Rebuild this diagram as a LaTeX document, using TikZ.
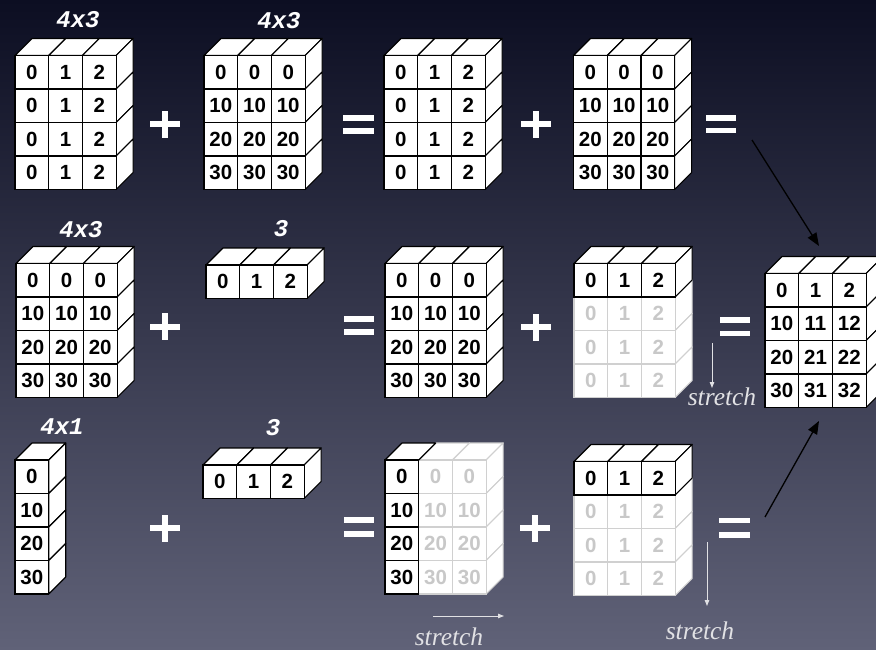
\documentclass[tikz,border=0pt]{standalone}
\usepackage{fontspec}
\usetikzlibrary{arrows.meta}
\newfontfamily\cellfamily{Liberation Sans}
\newfontfamily\labfamily{Liberation Mono}
\newfontfamily\strfamily{Liberation Serif}
\definecolor{bgtop}{RGB}{12,14,34}
\definecolor{bgmid}{RGB}{50,52,78}
\definecolor{bgbot}{RGB}{96,98,120}
\definecolor{gridgray}{RGB}{208,208,208}
\definecolor{textgray}{RGB}{200,200,200}
\definecolor{stretchgray}{RGB}{225,225,228}
\def\W{33.7}
\def\H{33.5}
\def\D{17}
\tikzset{
  cellbox/.style={rectangle, minimum width=33.7pt, minimum height=33.5pt, inner sep=0pt, fill=white, line width=1.2pt, font=\cellfamily\bfseries\fontsize{20.5}{22}\selectfont},
  facestyle/.style={fill=white, line width=1.2pt, line join=round},
  lab/.style={text=white, font=\labfamily\bfseries\itshape\fontsize{24}{25}\selectfont, inner sep=0pt},
  strlab/.style={text=stretchgray, font=\strfamily\itshape\fontsize{25.5}{26}\selectfont, inner sep=0pt},
  blackarrow/.style={draw=black, line width=1.3pt, -{Triangle[length=13pt,width=10pt]}},
  stretcharrow/.style={draw=stretchgray, line width=1pt, -{Triangle[length=6pt,width=4.5pt]}},
  sign/.style={fill=white}
}
\newcommand{\topat}[3]{\filldraw[facestyle,draw=#3] (#1,#2) -- ++(\D,-\D) -- ++(\W,0) -- ++(-\D,\D) -- cycle;}
\newcommand{\sideat}[3]{\filldraw[facestyle,draw=#3] ({#1+\W},#2) -- ++(\D,-\D) -- ++(0,\H) -- ++(-\D,\D) -- cycle;}
% name, x0, y0, rows, cols, row factor, col factor, mode (0 all black, 1 top row black, 2 first col black)
\newcommand{\grid}[8]{%
  \pgfmathtruncatemacro\nr{#4-1}%
  \pgfmathtruncatemacro\nc{#5-1}%
  \foreach \pass in {0,1} {
    \foreach \i in {0,...,\nr} {
      \foreach \j in {0,...,\nc} {
        \pgfmathtruncatemacro\isblack{(#8==0) || ((#8==1) && (\i==0)) || ((#8==2) && (\j==0))}
        \ifnum\isblack=\pass
          \ifnum\isblack=1 \def\cc{black}\def\tc{black}\else\def\cc{gridgray}\def\tc{textgray}\fi
          \pgfmathtruncatemacro\val{#6*\i+#7*\j}
          \pgfmathsetmacro\xx{#2+\j*\W}
          \pgfmathsetmacro\yy{#3+\i*\H}
          \ifnum\i=0 \topat{\xx}{\yy}{\cc}\fi
          \ifnum\j=\nc \sideat{\xx}{\yy}{\cc}\fi
          \node[cellbox,draw=\cc,text=\tc] (#1-\i-\j) at ({\xx+\W/2},{\yy+\H/2}) {\val};
        \fi
      }
    }
  }
}
\newcommand{\plusat}[2]{%
  \fill[sign] ({#1-15},{#2-3}) rectangle ({#1+15},{#2+3});
  \fill[sign] ({#1-3},{#2-13.5}) rectangle ({#1+3},{#2+13.5});}
\newcommand{\eqat}[4]{% x left, x right, y top bar centre, y bottom bar centre
  \fill[sign] (#1,{#3-2.8}) rectangle (#2,{#3+2.8});
  \fill[sign] (#1,{#4-2.8}) rectangle (#2,{#4+2.8});}
\begin{document}
\begin{tikzpicture}[x=1pt,y=-1pt]
\useasboundingbox (0,0) rectangle (876,650);
\clip (0,0) rectangle (876,650);
\shade[top color=bgtop, middle color=bgmid, bottom color=bgbot] (0,0) rectangle (876,650);

% row 1
\grid{A}{15}{55.5}{4}{3}{0}{1}{0}
\grid{B}{204}{55.5}{4}{3}{10}{0}{0}
\grid{C}{384}{55.5}{4}{3}{0}{1}{0}
\grid{D}{573.5}{55.5}{4}{3}{10}{0}{0}
% row 2
\grid{E}{16}{263.5}{4}{3}{10}{0}{0}
\grid{F}{206}{265}{1}{3}{0}{1}{0}
\grid{G}{385}{263.5}{4}{3}{10}{0}{0}
\grid{H}{574}{263.5}{4}{3}{0}{1}{1}
\grid{R}{765}{273.5}{4}{3}{10}{1}{0}
% row 3
\grid{K}{15}{460}{4}{1}{10}{0}{0}
\grid{L}{203}{465}{1}{3}{0}{1}{0}
\grid{M}{385}{460}{4}{3}{10}{0}{2}
\grid{N}{574}{461.5}{4}{3}{0}{1}{1}

% labels
\node[lab] (labA) at (78,20) {4x3};
\node[lab] (labB) at (279,21) {4x3};
\node[lab] (labE) at (81,230) {4x3};
\node[lab] (labF) at (281,229) {3};
\node[lab] (labK) at (62,427) {4x1};
\node[lab] (labL) at (273,428) {3};

% signs
\plusat{165}{124.5}
\eqat{343}{374}{118}{131}
\plusat{535.5}{124.5}
\eqat{706}{736}{118}{130.5}
\plusat{165}{326.5}
\eqat{344}{374}{319}{332}
\plusat{535.5}{327}
\eqat{720}{750}{320}{333.5}
\plusat{165}{528}
\eqat{344}{374}{520}{534}
\plusat{535}{528}
\eqat{719}{750}{520.5}{535}

% stretch arrows and labels
\coordinate (s1a) at (712,343);
\coordinate (s1b) at (712,388);
\draw[stretcharrow] (s1a) -- (s1b);
\node[strlab] (st1) at (722,397) {stretch};
\coordinate (s2a) at (433,616);
\coordinate (s2b) at (504,616);
\draw[stretcharrow] (s2a) -- (s2b);
\node[strlab] (st2) at (449,637) {stretch};
\coordinate (s3a) at (707,542);
\coordinate (s3b) at (707,606);
\draw[stretcharrow] (s3a) -- (s3b);
\node[strlab] (st3) at (700,631) {stretch};

% black arrows to result
\coordinate (b1a) at (752,140);
\coordinate (b1b) at (819,246);
\draw[blackarrow] (b1a) -- (b1b);
\coordinate (b2a) at (765,517);
\coordinate (b2b) at (819,421);
\draw[blackarrow] (b2a) -- (b2b);
\end{tikzpicture}
\end{document}
